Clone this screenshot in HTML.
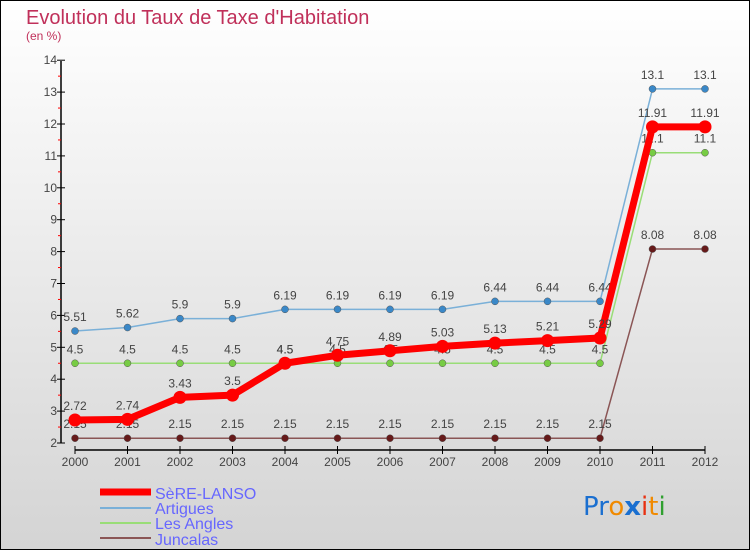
<!DOCTYPE html>
<html><head><meta charset="utf-8"><style>
body{margin:0;width:750px;height:550px;overflow:hidden}
svg{display:block;font-family:"Liberation Sans","DejaVu Sans",sans-serif}
</style></head><body>
<svg id="c" width="750" height="550">
<defs><linearGradient id="bg" x1="0" y1="0" x2="0" y2="1"><stop offset="0" stop-color="#ffffff"/><stop offset="1" stop-color="#d4d4d4"/></linearGradient></defs>
<rect x="0.5" y="0.5" width="749" height="549" fill="url(#bg)" stroke="#000"/>
<text x="26" y="24" font-size="20" fill="#c0305a">Evolution du Taux de Taxe d'Habitation</text>
<text x="26" y="40" font-size="12" fill="#c0305a">(en %)</text>
<g id="axes"></g><g id="series"></g>
<g>
<line x1="100" y1="492" x2="151" y2="492" stroke="#f00" stroke-width="7"/>
<text x="155" y="499" font-size="16" fill="#6666ff">SèRE-LANSO</text>
<line x1="100" y1="508" x2="151" y2="508" stroke="#7ab0d8" stroke-width="2"/>
<text x="155" y="514" font-size="16" fill="#6666ff">Artigues</text>
<line x1="100" y1="523" x2="151" y2="523" stroke="#99dd77" stroke-width="2"/>
<text x="155" y="529" font-size="16" fill="#6666ff">Les Angles</text>
<line x1="100" y1="538" x2="151" y2="538" stroke="#8a5555" stroke-width="2"/>
<text x="155" y="545" font-size="16" fill="#6666ff">Juncalas</text>
</g>
<g font-size="26" font-family="'DejaVu Sans',sans-serif">
<text x="583" y="515"><tspan fill="#1a6fd0">Pr</tspan><tspan fill="#f08a00">o</tspan><tspan fill="#1a6fd0" font-weight="bold">x</tspan><tspan fill="#e83010">i</tspan><tspan fill="#f08a00">t</tspan><tspan fill="#30a030">i</tspan></text>
</g>
</svg>
<script>
const years=[2000,2001,2002,2003,2004,2005,2006,2007,2008,2009,2010,2011,2012];
const sere=[2.72,2.74,3.43,3.5,4.5,4.75,4.89,5.03,5.13,5.21,5.29,11.91,11.91];
const artigues=[5.51,5.62,5.9,5.9,6.19,6.19,6.19,6.19,6.44,6.44,6.44,13.1,13.1];
const angles=[4.5,4.5,4.5,4.5,4.5,4.5,4.5,4.5,4.5,4.5,4.5,11.1,11.1];
const juncalas=[2.15,2.15,2.15,2.15,2.15,2.15,2.15,2.15,2.15,2.15,2.15,8.08,8.08];
const yTicks=[2,3,4,5,6,7,8,9,10,11,12,13,14];
const NS="http://www.w3.org/2000/svg";
const X=i=>75+i*52.5, Y=v=>443-(v-2)*31.9;
function mk(t,a,p){const e=document.createElementNS(NS,t);for(const k in a)e.setAttribute(k,a[k]);p.appendChild(e);return e;}
const ax=document.getElementById('axes');
let l=mk('line',{x1:61,y1:61,x2:61,y2:443,stroke:'#000','stroke-width':1.5},ax);


yTicks.forEach(v=>{
 mk('line',{x1:57,y1:Y(v),x2:65,y2:Y(v),stroke:'#000'},ax);
 if(v<14)mk('line',{x1:58,y1:Y(v+0.5),x2:61,y2:Y(v+0.5),stroke:'#f00'},ax);
 const t=mk('text',{x:57,y:Y(v)+4,'font-size':12,fill:'#444','text-anchor':'end'},ax);t.textContent=v;
 
 
});
l=mk('line',{x1:75,y1:450,x2:705,y2:450,stroke:'#000','stroke-width':1.5},ax);


years.forEach((y,i)=>{
 mk('line',{x1:X(i),y1:446,x2:X(i),y2:454,stroke:'#000'},ax);
 const t=mk('text',{x:X(i),y:466,'font-size':12,fill:'#444','text-anchor':'middle'},ax);t.textContent=y;
 
 
});
const sg=document.getElementById('series');
function draw(vals,name,col,fill,w,r){
 const g=mk('g',{},sg);
 
 
 mk('polyline',{points:vals.map((v,i)=>X(i)+','+Y(v)).join(' '),fill:'none',stroke:col,'stroke-width':w,'stroke-linejoin':'round'},g);
 vals.forEach((v,i)=>{
  const c=mk('circle',{cx:X(i),cy:Y(v),r:r,fill:fill,stroke:r>5?'none':'#555','stroke-width':0.5},g);
  
  
  const t=mk('text',{x:X(i),y:Y(v)-10,'font-size':12,fill:'#444','text-anchor':'middle'},g);t.textContent=v;
  
  
 });
}
draw(juncalas,'juncalas','#8a5555','#661a1a',1.5,3.5);
draw(angles,'les-angles','#99dd77','#77cc44',1.5,3.5);
draw(artigues,'artigues','#7ab0d8','#3a88c8',1.5,3.5);
draw(sere,'sere-lanso','#f00','#f00',7,6.5);
</script>
</body></html>
